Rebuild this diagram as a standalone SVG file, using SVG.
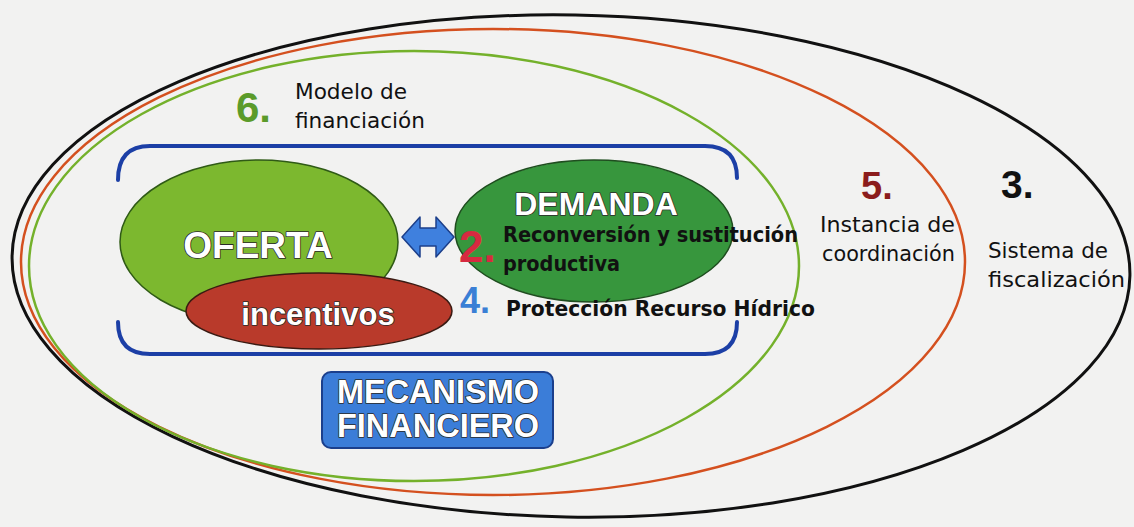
<svg xmlns="http://www.w3.org/2000/svg" width="1134" height="527" viewBox="0 0 1134 527">
<style>
.ring{fill:none}
.comic{font-family:"DejaVu Sans","Noto Sans",sans-serif;fill:#111}
.bold{font-weight:bold}
.big{font-family:"Liberation Sans",Arial,sans-serif;font-weight:bold}
.white{fill:#fff;stroke:#2a2a2a;stroke-width:1.6;paint-order:stroke;stroke-linejoin:round}
.num{font-family:"Liberation Sans",Arial,sans-serif;font-weight:bold}
</style>
<rect width="1134" height="527" fill="#f2f2f1"/>
<g id="ring-3">
<ellipse class="ring" cx="571" cy="266" rx="559" ry="251" stroke="#111" stroke-width="3" transform="rotate(1 571 266)"/>
</g>
<g id="ring-5">
<ellipse class="ring" cx="493" cy="262" rx="472" ry="233" stroke="#d4501f" stroke-width="2.5"/>
</g>
<g id="ring-6">
<ellipse class="ring" cx="414" cy="266" rx="385" ry="215" stroke="#74b12b" stroke-width="2.5"/>
</g>
<g id="bracket" fill="none" stroke="#1c3fa6" stroke-width="4" stroke-linecap="round">
<path d="M118,180 Q118,146 150,146 L705,146 Q737,146 737,178"/>
<path d="M118,322 Q118,354 150,354 L705,354 Q737,354 737,322"/>
</g>
<g id="oferta">
<ellipse cx="259" cy="242" rx="139" ry="82" fill="#7cb82f" stroke="#2f5a16" stroke-width="1.5"/>
<text class="big white" x="258" y="258" font-size="37" text-anchor="middle">OFERTA</text>
</g>
<g id="demanda">
<ellipse cx="594" cy="231" rx="139" ry="71" fill="#37963d" stroke="#1f4d1f" stroke-width="1.5"/>
<text class="big white" x="596" y="215" font-size="32" text-anchor="middle">DEMANDA</text>
</g>
<g id="incentivos">
<ellipse cx="319" cy="311" rx="133" ry="38" fill="#b93a2b" stroke="#3a1a12" stroke-width="1.5"/>
<text class="big white" x="318" y="325" font-size="31" text-anchor="middle">incentivos</text>
</g>
<g id="connectors">
<path d="M402,237 L420,217 L420,228 L436,228 L436,217 L454,237 L436,257 L436,246 L420,246 L420,257 Z" fill="#3f80de" stroke="#1c3f8a" stroke-width="1.5" stroke-linejoin="round"/>
</g>
<g id="label-2">
<text class="num" x="459" y="262" font-size="44" fill="#d62a40">2.</text>
<text class="comic bold" x="503" y="242" font-size="22" textLength="295" lengthAdjust="spacingAndGlyphs">Reconversión y sustitución</text>
<text class="comic bold" x="503" y="271" font-size="22" textLength="117" lengthAdjust="spacingAndGlyphs">productiva</text>
</g>
<g id="label-4">
<text class="num" x="460" y="313" font-size="36" fill="#3a7fd5">4.</text>
<text class="comic bold" x="506" y="316" font-size="22" textLength="309" lengthAdjust="spacingAndGlyphs">Protección Recurso Hídrico</text>
</g>
<g id="label-6">
<text class="num" x="236" y="122" font-size="42" fill="#5b9b2a">6.</text>
<text class="comic" x="295" y="99" font-size="22" textLength="112" lengthAdjust="spacingAndGlyphs">Modelo de</text>
<text class="comic" x="295" y="128" font-size="22" textLength="130" lengthAdjust="spacingAndGlyphs">financiación</text>
</g>
<g id="label-5">
<text class="num" x="861" y="199" font-size="38" fill="#8b1c1c">5.</text>
<text class="comic" x="820" y="232" font-size="22" textLength="135" lengthAdjust="spacingAndGlyphs">Instancia de</text>
<text class="comic" x="822" y="261" font-size="22" textLength="133" lengthAdjust="spacingAndGlyphs">coordinación</text>
</g>
<g id="label-3">
<text class="num" x="1001" y="198" font-size="39" fill="#111">3.</text>
<text class="comic" x="988" y="258" font-size="22" textLength="120" lengthAdjust="spacingAndGlyphs">Sistema de</text>
<text class="comic" x="988" y="287" font-size="22" textLength="137" lengthAdjust="spacingAndGlyphs">fiscalización</text>
</g>
<g id="mecanismo">
<rect x="322" y="372" width="231" height="76" rx="9" fill="#3b7dd8" stroke="#1b3f8c" stroke-width="2"/>
<text class="big white" x="438" y="403" font-size="32.5" text-anchor="middle">MECANISMO</text>
<text class="big white" x="438" y="437" font-size="32.5" text-anchor="middle">FINANCIERO</text>
</g>
</svg>
